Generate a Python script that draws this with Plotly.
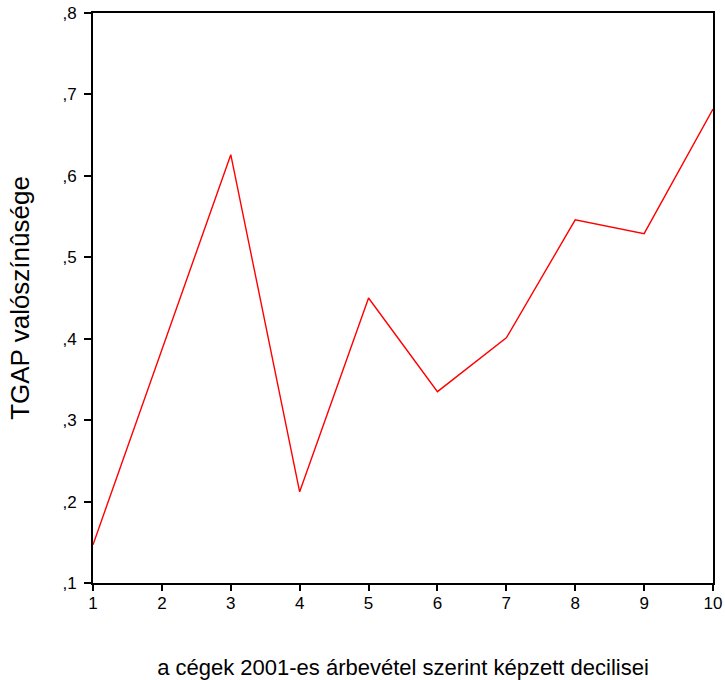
import plotly.graph_objects as go

# Data
decilis = [1, 2, 3, 4, 5, 6, 7, 8, 9, 10]
valoszinuseg = [0.147, 0.386, 0.626, 0.212, 0.450, 0.335, 0.401, 0.546, 0.529, 0.682]

y_tickvals = [0.1, 0.2, 0.3, 0.4, 0.5, 0.6, 0.7, 0.8]
y_ticktext = [',1', ',2', ',3', ',4', ',5', ',6', ',7', ',8']

# Figure
fig = go.Figure()
fig.add_trace(go.Scatter(
    x = decilis, y = valoszinuseg,
    mode = 'lines',
    line = dict(color = '#ff0000', width = 1.4),
    showlegend = False,
    cliponaxis = False
))

font_family = 'Liberation Sans, Arial, sans-serif'

fig.update_layout(
    width = 725, height = 680,
    margin = dict(l = 93, r = 12, t = 13, b = 97),
    paper_bgcolor = 'white', plot_bgcolor = 'white',
    font = dict(family = font_family, color = 'black', size = 17)
)

fig.update_xaxes(
    range = [1, 10],
    tickvals = decilis,
    ticks = 'outside', ticklen = 6, tickwidth = 1.5, tickcolor = 'black',
    showline = True, linecolor = 'black', linewidth = 2, mirror = True,
    showgrid = False, zeroline = False, automargin = False,
    tickfont = dict(size = 17), ticklabeloverflow = 'allow', ticklabelstandoff = -2,
    title = dict(text = 'a cégek 2001-es árbevétel szerint képzett decilisei',
                 font = dict(size = 22), standoff = 48)
)

fig.update_yaxes(
    range = [0.1, 0.8],
    tickvals = y_tickvals, ticktext = y_ticktext,
    ticks = 'outside', ticklen = 7, tickwidth = 1.5, tickcolor = 'black',
    showline = True, linecolor = 'black', linewidth = 2, mirror = True,
    showgrid = False, zeroline = False, automargin = False,
    tickfont = dict(size = 17), ticklabelstandoff = 4, ticklabeloverflow = 'allow',
    title = dict(text = 'TGAP valószínûsége', font = dict(size = 26), standoff = 25)
)

# no modebar, and drop the default page margin so the figure sits at the window's corner
fig.write_html("out.html", config = {'displayModeBar': False},
               post_script = "document.body.style.margin = '0';")
